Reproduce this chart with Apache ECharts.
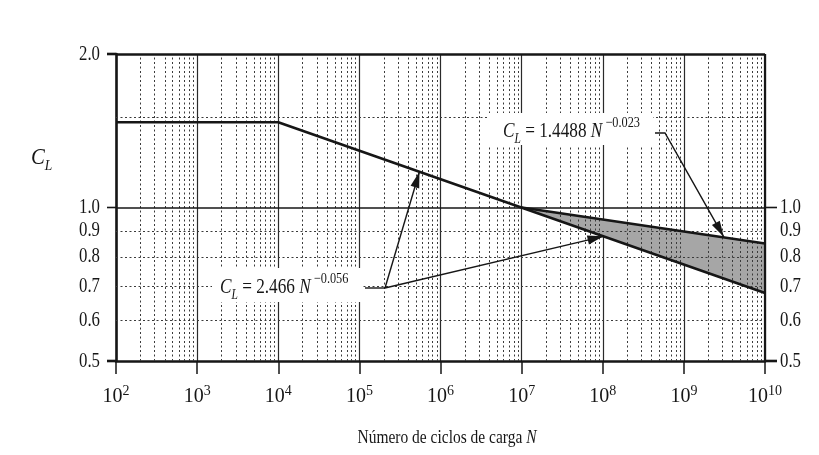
<!DOCTYPE html>
<html><head><meta charset="utf-8">
<script src="https://cdn.jsdelivr.net/npm/echarts@6/dist/echarts.min.js"></script>
<style>html,body{margin:0;padding:0;background:#fff}#c{width:819px;height:455px}</style>
</head><body><div id="c"></div>
<script>
// ---- data ----
const lowerN  = [1e2, 1e4, 1e10];
const lowerCL = [1.47, 1.47, 0.68];
const upperN  = [1e7, 1e10];
const upperCL = [1.0, 0.85];
const bandN     = [1e7, 1e10];
const bandUpper = [1.0, 0.85];
const bandLower = [1.0, 0.68];
const xDecades   = [2, 3, 4, 5, 6, 7, 8, 9, 10];
const yLeftTicks  = [2.0, 1.0, 0.9, 0.8, 0.7, 0.6, 0.5];
const yRightTicks = [1.0, 0.9, 0.8, 0.7, 0.6, 0.5];
const yMinorGrid  = [0.6, 0.7, 0.8, 0.9, 1.5];
const yMajorTicks = [2.0, 1.0, 0.5];
const ann1Tip  = [3.1e9, 0.876];
const ann2Tips = [[5.5e5, 1.175], [1.02e8, 0.878]];

const FONT = "'Liberation Serif','DejaVu Serif',serif";
const INK = '#161616';

// minor vertical grid (2..9 within each decade)
const minorX = [];
xDecades.slice(0, -1).forEach(d => { for (let k = 2; k <= 9; k++) minorX.push(k * Math.pow(10, d)); });

const chart = echarts.init(document.getElementById('c'));
const base = {
  backgroundColor: '#ffffff',
  animation: false,
  grid: { left: 116, right: 54, top: 54, bottom: 94, containLabel: false },
  xAxis: {
    type: 'log', logBase: 10, min: 1e2, max: 1e10, splitNumber: 8,
    axisLine: { show: true, lineStyle: { color: INK, width: 2.6 } },
    axisTick: { show: true, length: 13, lineStyle: { color: INK, width: 1.5 } },
    splitLine: { show: true, lineStyle: { color: '#2a2a2a', width: 1.2 } },
    minorTick: { show: false }, minorSplitLine: { show: false },
    axisLabel: {
      margin: 23, color: INK, fontFamily: FONT,
      formatter: v => '{b|10}{s|' + Math.round(Math.log10(v)) + '}',
      rich: {
        b: { fontSize: 20, fontFamily: FONT, color: INK, verticalAlign: 'bottom' },
        s: { fontSize: 14, fontFamily: FONT, color: INK, verticalAlign: 'bottom', padding: [0, 0, 9, 0] }
      }
    }
  },
  yAxis: {
    type: 'log', logBase: 10, min: 0.5, max: 2.0,
    axisLine: { show: true, lineStyle: { color: INK, width: 2.6 } },
    axisTick: { show: false }, axisLabel: { show: false }, splitLine: { show: false }
  },
  series: [
    {
      type: 'custom', z: 1, silent: true,
      data: bandN.map((n, i) => [n, bandUpper[i], bandLower[i]]),
      renderItem: (params, api) => {
        if (params.dataIndex !== 0) return null;
        const pts = [];
        bandN.forEach((n, i) => pts.push(api.coord([n, bandUpper[i]])));
        for (let i = bandN.length - 1; i >= 0; i--) pts.push(api.coord([bandN[i], bandLower[i]]));
        return { type: 'polygon', shape: { points: pts }, style: { fill: '#a6a6a6' } };
      },
      encode: { x: 0, y: [1, 2] }
    },
    {
      type: 'line', z: 3, silent: true, symbol: 'none',
      data: [],
      markLine: {
        silent: true, symbol: 'none', label: { show: false }, animation: false,
        lineStyle: { type: [2, 2.5], color: '#3a3a3a', width: 1 },
        data: minorX.map(v => ({ xAxis: v })).concat(yMinorGrid.map(v => ({ yAxis: v })))
      }
    },
    {
      type: 'line', z: 4, silent: true, symbol: 'none', data: [],
      markLine: {
        silent: true, symbol: 'none', label: { show: false }, animation: false,
        data: [
          { yAxis: 2.0, lineStyle: { type: 'solid', color: INK, width: 2.6 } },
          { xAxis: 1e10, lineStyle: { type: 'solid', color: INK, width: 2.2 } },
          { yAxis: 1.0, lineStyle: { type: 'solid', color: INK, width: 1.6 } }
        ]
      }
    },
    {
      type: 'line', z: 6, silent: true, symbol: 'none',
      data: lowerN.map((n, i) => [n, lowerCL[i]]),
      lineStyle: { color: INK, width: 2.6 }
    },
    {
      type: 'line', z: 6, silent: true, symbol: 'none',
      data: upperN.map((n, i) => [n, upperCL[i]]),
      lineStyle: { color: INK, width: 2.6 }
    }
  ]
};
chart.setOption(base);

const px = (x, y) => chart.convertToPixel({ gridIndex: 0 }, [x, y]);
const xL = px(1e2, 1)[0], xR = px(1e10, 1)[0];
const g = [];
const Z = 100;

function arrowHead(from, tip) {
  const dx = tip[0] - from[0], dy = tip[1] - from[1], len = Math.hypot(dx, dy);
  const ux = dx / len, uy = dy / len, L = 16, W = 4.5;
  const b = [tip[0] - ux * L, tip[1] - uy * L];
  return { type: 'polygon', z: Z + 2, shape: { points: [tip, [b[0] - uy * W, b[1] + ux * W], [b[0] + uy * W, b[1] - ux * W]] }, style: { fill: INK } };
}

// left labels
yLeftTicks.forEach(v => {
  const y = px(1e2, v)[1];
  g.push({ type: 'text', z: Z, x: xL - 16, y: y, scaleX: 0.8, style: { text: v.toFixed(1), font: '21px ' + FONT, fill: INK, align: 'right', verticalAlign: 'middle' } });
});
// right labels
yRightTicks.forEach(v => {
  const y = px(1e10, v)[1];
  g.push({ type: 'text', z: Z, x: xR + 15, y: y, scaleX: 0.8, style: { text: v.toFixed(1), font: '21px ' + FONT, fill: INK, align: 'left', verticalAlign: 'middle' } });
});
// left major ticks
yMajorTicks.forEach(v => {
  const y = px(1e2, v)[1];
  g.push({ type: 'line', z: Z, shape: { x1: xL - 9, y1: y, x2: xL, y2: y }, style: { stroke: INK, lineWidth: v === 1.0 ? 1.6 : 2.6 } });
});
// right extensions at 1.0 and 0.5
[1.0, 0.5].forEach(v => {
  const y = px(1e10, v)[1];
  g.push({ type: 'line', z: Z, shape: { x1: xR, y1: y, x2: xR + 12, y2: y }, style: { stroke: INK, lineWidth: v === 1.0 ? 1.6 : 2.6 } });
});

// C_L axis label
g.push({ type: 'text', z: Z, x: 31, y: 160, scaleX: 0.9, style: {
  text: '{c|C}{l|L}', verticalAlign: 'middle',
  rich: { c: { font: 'italic 23px ' + FONT, fill: INK, verticalAlign: 'bottom', padding: [0, 0, 5, 0] },
          l: { font: 'italic 15px ' + FONT, fill: INK, verticalAlign: 'bottom' } } } });

// x axis title
g.push({ type: 'text', z: Z, x: 447, y: 438, scaleX: 0.86, style: {
  text: 'Número de ciclos de carga {i|N}', font: '18px ' + FONT, fill: INK, align: 'center', verticalAlign: 'middle',
  rich: { i: { font: 'italic 18px ' + FONT, fill: INK } } } });

function eqRich(coef, exp) {
  return {
    text: '{c|C}{l|L}{t| = ' + coef + ' }{n|N}{e| \u22120' + exp + '}',
    verticalAlign: 'middle', align: 'left',
    rich: {
      c: { font: 'italic 21px ' + FONT, fill: INK, verticalAlign: 'bottom', padding: [0, 0, 4, 0] },
      l: { font: 'italic 14px ' + FONT, fill: INK, verticalAlign: 'bottom' },
      t: { font: '21px ' + FONT, fill: INK, verticalAlign: 'bottom', padding: [0, 0, 4, 0] },
      n: { font: 'italic 21px ' + FONT, fill: INK, verticalAlign: 'bottom', padding: [0, 0, 4, 0] },
      e: { font: '15px ' + FONT, fill: INK, verticalAlign: 'bottom', padding: [0, 0, 15, 0] }
    }
  };
}

// annotation 1
g.push({ type: 'rect', z: Z - 1, shape: { x: 488, y: 113, width: 165, height: 32 }, style: { fill: '#ffffff' } });
g.push({ type: 'text', z: Z, x: 503, y: 131, scaleX: 0.82, style: eqRich('1.4488', '.023') });
{
  const t = px(ann1Tip[0], ann1Tip[1]);
  const e = [665, 133];
  g.push({ type: 'polyline', z: Z + 1, shape: { points: [[655, 133], e, t] }, style: { stroke: INK, lineWidth: 1.4, fill: null } });
  g.push(arrowHead(e, t));
}
// annotation 2
g.push({ type: 'rect', z: Z - 1, shape: { x: 212, y: 268, width: 150, height: 34 }, style: { fill: '#ffffff' } });
g.push({ type: 'text', z: Z, x: 220, y: 287, scaleX: 0.82, style: eqRich('2.466', '.056') });
{
  const e = [385, 288];
  g.push({ type: 'line', z: Z + 1, shape: { x1: 365, y1: 288, x2: 385, y2: 288 }, style: { stroke: INK, lineWidth: 1.4 } });
  ann2Tips.forEach(tp => {
    const t = px(tp[0], tp[1]);
    g.push({ type: 'line', z: Z + 1, shape: { x1: e[0], y1: e[1], x2: t[0], y2: t[1] }, style: { stroke: INK, lineWidth: 1.4 } });
    g.push(arrowHead(e, t));
  });
}

chart.setOption({ graphic: { elements: g } });
</script>
</body></html>
